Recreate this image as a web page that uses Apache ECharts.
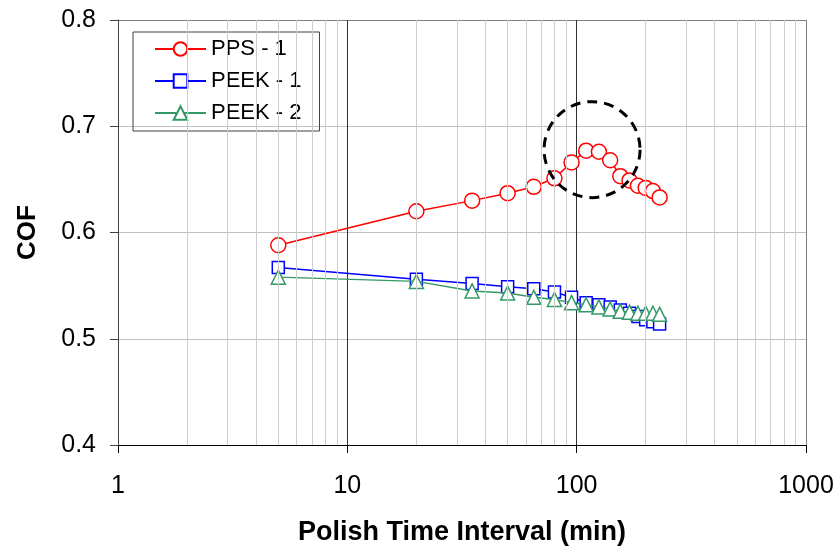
<!DOCTYPE html>
<html>
<head>
<meta charset="utf-8">
<script src="https://cdn.jsdelivr.net/npm/echarts@6/dist/echarts.min.js"></script>
<style>
  html, body { margin: 0; padding: 0; background: #fff; }
  #main { width: 838px; height: 551px; }
</style>
</head>
<body>
<div id="main"></div>
<script>
// polish time (min)
const timeMin = [5, 20, 35, 50, 65, 80, 95, 110, 125, 140, 155, 170, 185, 200, 215, 230];

const ppsCof = [0.588, 0.620, 0.630, 0.637, 0.643, 0.651, 0.666, 0.677, 0.676, 0.668,
  0.653, 0.649, 0.644, 0.642, 0.639, 0.633];
const peek1Cof = [0.567, 0.556, 0.552, 0.549, 0.547, 0.544, 0.539, 0.534, 0.532, 0.530,
  0.527, 0.524, 0.521, 0.518, 0.516, 0.514];
const peek2Cof = [0.558, 0.554, 0.545, 0.543, 0.539, 0.537, 0.534, 0.532, 0.530, 0.528,
  0.526, 0.525, 0.524, 0.524, 0.524, 0.523];

// minor grid lines of the log axis
const minorGridX = [2, 3, 4, 5, 6, 7, 8, 9, 20, 30, 40, 50, 60, 70, 80, 90,
  200, 300, 400, 500, 600, 700, 800, 900];

// dashed circle round the PPS peak (data coords of centre)
const peakMark = [116.7, 0.678];

const pairs = (ys) => timeMin.map((t, i) => [t, ys[i]]);

const font = "Arial, 'Liberation Sans', sans-serif";

const chart = echarts.init(document.getElementById("main"));
chart.setOption({
  animation: false,
  textStyle: { fontFamily: font },
  grid: { left: 118, right: 32, top: 20, bottom: 106 },
  legend: {
    orient: "vertical",
    left: 133,
    top: 32,
    padding: [6, 18, 7, 21],
    itemWidth: 51,
    itemHeight: 17,
    itemGap: 10,
    borderColor: "#404040",
    borderWidth: 1,
    textStyle: { fontSize: 22, color: "#000", fontFamily: font },
    data: ["PPS - 1", "PEEK - 1", "PEEK - 2"],
  },
  xAxis: {
    type: "log",
    logBase: 10,
    min: 1,
    max: 1000,
    name: "Polish Time Interval (min)",
    nameLocation: "middle",
    nameGap: 74,
    nameTextStyle: { fontSize: 27, fontWeight: "bold", color: "#000" },
    axisLine: { lineStyle: { color: "#000", width: 1 } },
    axisTick: { show: true, length: 8, lineStyle: { color: "#000" } },
    axisLabel: { fontSize: 25, color: "#000", margin: 29, formatter: (v) => String(v) },
    splitLine: {
      show: true,
      lineStyle: { color: ["#808080", "#303030", "#303030", "#808080"], width: 1 },
    },
  },
  yAxis: {
    type: "value",
    min: 0.4,
    max: 0.8,
    interval: 0.1,
    name: "COF",
    nameLocation: "middle",
    nameGap: 77,
    nameTextStyle: { fontSize: 26, fontWeight: "bold", color: "#000" },
    axisLine: { show: true, lineStyle: { color: "#404040", width: 1 } },
    axisTick: { show: true, length: 8, lineStyle: { color: "#404040" } },
    axisLabel: {
      fontSize: 25,
      color: "#000",
      margin: 22,
      formatter: (v) => v.toFixed(1),
    },
    splitLine: {
      show: true,
      lineStyle: { color: ["#c0c0c0", "#c0c0c0", "#c0c0c0", "#c0c0c0", "#808080"], width: 1 },
    },
  },
  series: [
    {
      name: "minor",
      type: "line",
      data: [],
      z: 1,
      silent: true,
      markLine: {
        silent: true,
        symbol: ["none", "none"],
        label: { show: false },
        lineStyle: { color: "#cccccc", width: 1, type: "solid" },
        emphasis: { disabled: true },
        data: minorGridX.map((v) => ({ xAxis: v })),
      },
    },
    {
      name: "PPS - 1",
      type: "line",
      data: pairs(ppsCof),
      symbol: "circle",
      symbolSize: 15,
      itemStyle: { color: "#fff", borderColor: "#ff0000", borderWidth: 1.5 },
      lineStyle: { color: "#ff0000", width: 1.5 },
      z: 3,
    },
    {
      name: "PEEK - 1",
      type: "line",
      data: pairs(peek1Cof),
      symbol: "rect",
      symbolSize: 12,
      itemStyle: { color: "#fff", borderColor: "#0000ff", borderWidth: 1.5 },
      lineStyle: { color: "#0000ff", width: 1.5 },
      z: 3,
    },
    {
      name: "PEEK - 2",
      type: "line",
      data: pairs(peek2Cof),
      symbol: "triangle",
      symbolSize: 14,
      itemStyle: { color: "#fff", borderColor: "#339966", borderWidth: 1.5 },
      lineStyle: { color: "#339966", width: 1.5 },
      z: 4,
    },
  ],
});

const c = chart.convertToPixel({ gridIndex: 0 }, peakMark);
chart.setOption({
  graphic: [
    {
      type: "circle",
      z: 100,
      silent: true,
      shape: { cx: c[0], cy: c[1], r: 48 },
      style: { fill: null, stroke: "#000", lineWidth: 3, lineDash: [10, 7] },
    },
  ],
});
</script>
</body>
</html>
